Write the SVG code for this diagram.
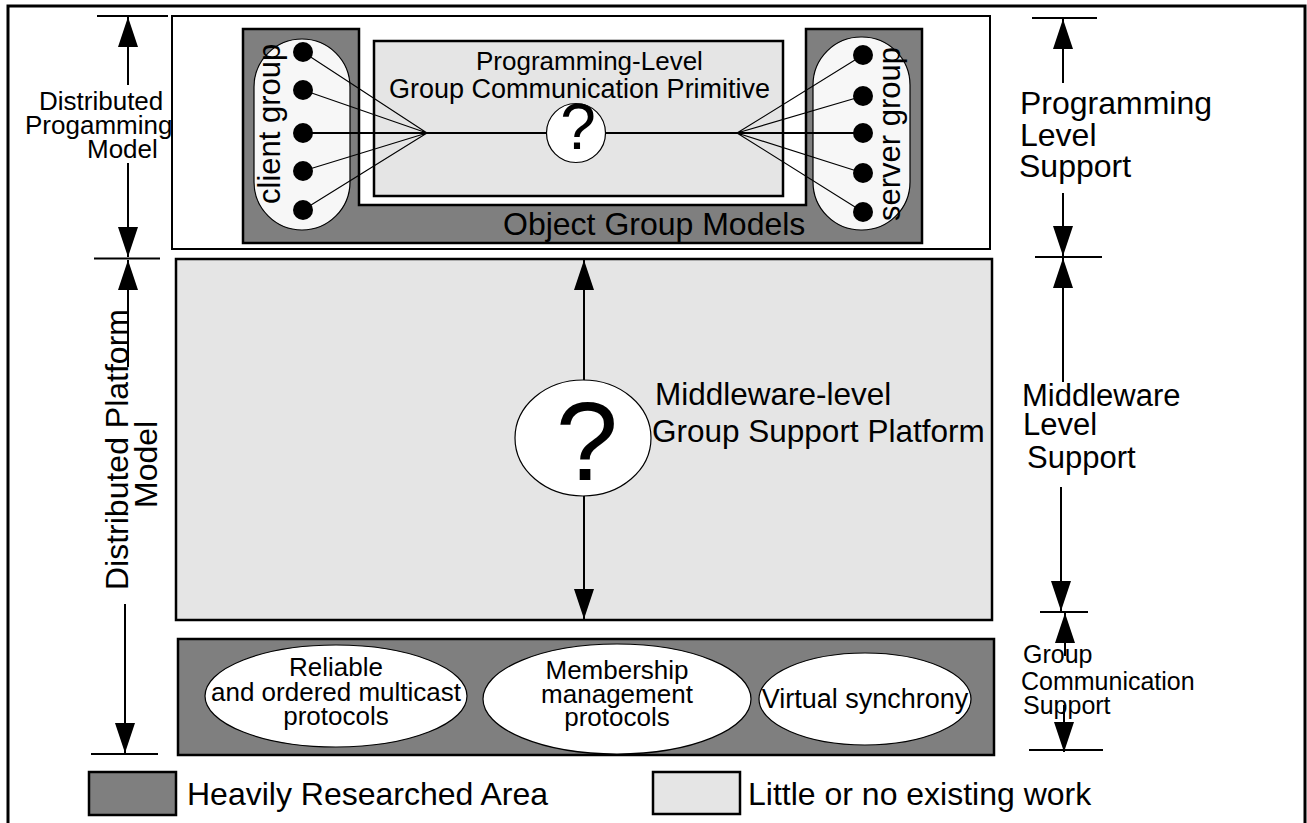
<svg xmlns="http://www.w3.org/2000/svg" width="1307" height="823" viewBox="0 0 1307 823">
  <defs>
    <marker id="ah" viewBox="0 0 30 20" refX="30" refY="10" markerWidth="30" markerHeight="20" markerUnits="userSpaceOnUse" orient="auto-start-reverse">
      <path d="M0,0 L30,10 L0,20 z" fill="#000"/>
    </marker>
    <style>
      text { font-family: "Liberation Sans", Arial, sans-serif; fill: #000; }
      .dark { fill: #7f7f7f; stroke: #000; stroke-width: 2.5; }
      .light { fill: #e5e5e5; stroke: #000; stroke-width: 2.5; }
      .frame { fill: #fff; stroke: #000; stroke-width: 2; }
      .pill { fill: #f7f7f7; stroke: #000; stroke-width: 1.2; }
      .dot { fill: #000; }
      .oval { fill: #fff; stroke: #000; stroke-width: 1.2; }
      .thin { stroke: #000; stroke-width: 1.1; fill: none; }
      .wire { stroke: #000; stroke-width: 2; fill: none; }
      .dim { stroke: #000; stroke-width: 2; fill: none; }
      .arr { stroke: #000; stroke-width: 2; fill: none; marker-end: url(#ah); }
      .arr2 { stroke: #000; stroke-width: 2; fill: none; marker-start: url(#ah); }
      .c { text-anchor: middle; }
    </style>
  </defs>

  <!-- outer frame -->
  <rect x="8" y="6" width="1297" height="830" fill="#fff" stroke="#000" stroke-width="3"/>

  <!-- programming level -->
  <g id="programming-level">
    <rect class="frame" x="172" y="16" width="818" height="233"/>
    <path class="dark" d="M243,29 H359 V205 H806 V29 H922 V243 H243 Z"/>
    <text x="503" y="235" font-size="32">Object Group Models</text>
  </g>

  <g id="primitive">
    <rect class="light" x="374" y="41" width="409" height="155"/>
    <text x="476" y="70" font-size="26">Programming-Level</text>
    <text x="389" y="98" font-size="27">Group Communication Primitive</text>
  </g>

  <g id="client-group">
    <rect class="pill" x="254" y="39" width="96" height="191" rx="48" ry="48"/>
    <text x="280" y="204" font-size="31" transform="rotate(-90 280 204)">client group</text>
    <circle class="dot" cx="303" cy="52" r="10"/>
    <circle class="dot" cx="303" cy="90" r="10"/>
    <circle class="dot" cx="303" cy="133" r="10"/>
    <circle class="dot" cx="303" cy="171" r="10"/>
    <circle class="dot" cx="303" cy="210" r="10"/>
  </g>

  <g id="server-group">
    <rect class="pill" x="813" y="37" width="97" height="193" rx="48" ry="48"/>
    <text x="900" y="221" font-size="31" transform="rotate(-90 900 221)">server group</text>
    <circle class="dot" cx="863" cy="55" r="10"/>
    <circle class="dot" cx="863" cy="96" r="10"/>
    <circle class="dot" cx="863" cy="133" r="10"/>
    <circle class="dot" cx="863" cy="173" r="10"/>
    <circle class="dot" cx="863" cy="212" r="10"/>
  </g>

  <!-- middleware level -->
  <g id="middleware">
    <rect class="light" x="176" y="259" width="816" height="361"/>
    <text x="655" y="405" font-size="31.5">Middleware-level</text>
    <text x="652" y="442" font-size="31.5">Group Support Platform</text>
  </g>

  <!-- group communication level -->
  <g id="group-communication">
    <rect class="dark" x="178" y="639" width="816" height="116"/>
  </g>
  <g id="multicast">
    <ellipse class="oval" cx="336" cy="696" rx="131" ry="51"/>
    <text class="c" x="336" y="676" font-size="26">Reliable</text>
    <text class="c" x="336" y="701" font-size="26">and ordered multicast</text>
    <text class="c" x="336" y="725" font-size="26">protocols</text>
  </g>
  <g id="membership">
    <ellipse class="oval" cx="617" cy="699" rx="134" ry="55"/>
    <text class="c" x="617" y="679" font-size="26">Membership</text>
    <text class="c" x="617" y="703" font-size="26">management</text>
    <text class="c" x="617" y="726" font-size="26">protocols</text>
  </g>
  <g id="virtual-synchrony">
    <ellipse class="oval" cx="865" cy="699" rx="106" ry="46"/>
    <text class="c" x="865" y="708" font-size="27">Virtual synchrony</text>
  </g>

  <!-- connectors -->
  <g id="connectors">
    <!-- client fan -->
    <path class="thin" d="M303,52 L427,133 M303,90 L427,133 M303,171 L427,133 M303,210 L427,133"/>
    <!-- server fan -->
    <path class="thin" d="M863,55 L737,133 M863,96 L737,133 M863,173 L737,133 M863,212 L737,133"/>
    <line class="wire" x1="303" y1="133" x2="863" y2="133"/>
    <!-- middleware link -->
    <line class="arr2" x1="584" y1="260" x2="584" y2="400"/>
    <line class="arr" x1="584" y1="480" x2="584" y2="619"/>

    <!-- left dimensions -->
    <path class="dim" d="M97,16 H168 M94,258.5 H160 M91,754 H158"/>
    <line class="arr2" x1="128" y1="17" x2="128" y2="85"/>
    <line class="arr" x1="128" y1="163" x2="128" y2="257"/>
    <line class="arr2" x1="128" y1="260" x2="128" y2="367"/>
    <line class="arr" x1="125" y1="604" x2="125" y2="753"/>

    <!-- right dimensions -->
    <path class="dim" d="M1032,18 H1097 M1035,257 H1102 M1040,612 H1088 M1029,750 H1103"/>
    <line class="arr2" x1="1063" y1="19" x2="1063" y2="83"/>
    <line class="arr" x1="1063" y1="193" x2="1063" y2="256"/>
    <line class="arr2" x1="1063" y1="258" x2="1063" y2="382"/>
    <line class="arr" x1="1061" y1="487" x2="1061" y2="611"/>
    <line class="arr2" x1="1065" y1="613" x2="1065" y2="656"/>
    <line class="arr" x1="1064" y1="705" x2="1064" y2="752"/>
  </g>

  <!-- question marks -->
  <g id="primitive-unknown">
    <circle class="oval" cx="576" cy="133" r="29.5"/>
    <text class="c" x="578" y="149" font-size="64">?</text>
  </g>
  <g id="platform-unknown">
    <ellipse class="oval" cx="583" cy="438" rx="68" ry="58"/>
    <text class="c" x="587" y="480" font-size="112">?</text>
  </g>

  <!-- side labels -->
  <g id="labels-left">
    <text x="39" y="110" font-size="26">Distributed</text>
    <text x="25" y="134" font-size="26">Progamming</text>
    <text x="87" y="158" font-size="26">Model</text>
    <text x="128" y="590" font-size="32" transform="rotate(-90 128 590)">Distributed Platform</text>
    <text x="157" y="508" font-size="32" transform="rotate(-90 157 508)">Model</text>
  </g>
  <g id="labels-right">
    <text x="1020" y="114" font-size="32">Programming</text>
    <text x="1020" y="146" font-size="32">Level</text>
    <text x="1019" y="177" font-size="32">Support</text>
    <text x="1022" y="406" font-size="31">Middleware</text>
    <text x="1023" y="435" font-size="31">Level</text>
    <text x="1027" y="468" font-size="31">Support</text>
    <text x="1023" y="663" font-size="25">Group</text>
    <text x="1021" y="690" font-size="25">Communication</text>
    <text x="1023" y="714" font-size="25">Support</text>
  </g>

  <!-- legend -->
  <g id="legend-heavy">
    <rect class="dark" x="89" y="772" width="87" height="43"/>
    <text x="187" y="805" font-size="32">Heavily Researched Area</text>
  </g>
  <g id="legend-little">
    <rect class="light" x="653" y="772" width="87" height="42"/>
    <text x="748" y="805" font-size="32">Little or no existing work</text>
  </g>
</svg>
